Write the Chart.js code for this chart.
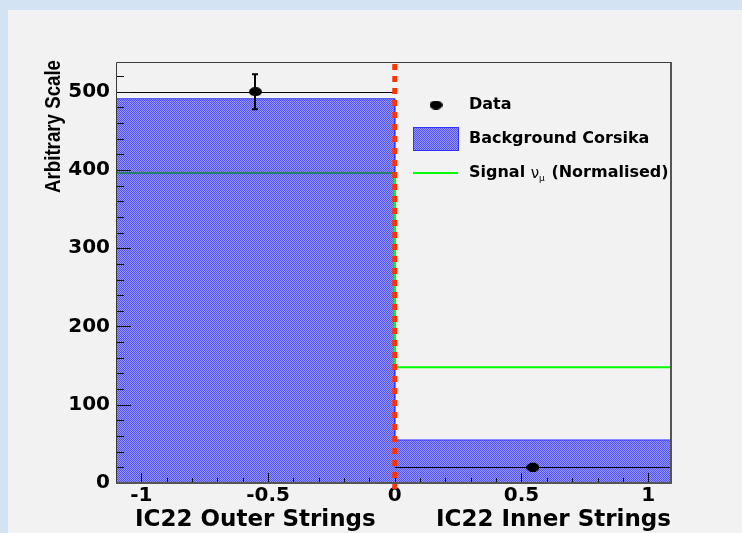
<!DOCTYPE html>
<html>
<head>
<meta charset="utf-8">
<script src="https://cdn.jsdelivr.net/npm/chart.js@4.4.0/dist/chart.umd.min.js"></script>
<style>
  html, body { margin: 0; padding: 0; }
  body { width: 742px; height: 533px; background: #d3e3f3; position: relative; overflow: hidden; }
  #wrap { position: absolute; left: 8px; top: 10px; width: 734px; height: 523px; background: #f2f2f2; }
  canvas { display: block; }
</style>
</head>
<body>
<div id="wrap"><canvas id="c" width="734" height="523"></canvas></div>
<script>
// ---- data ----
const binEdges = [-1.1, 0, 1.09];
const binLabels = ["IC22 Outer Strings", "IC22 Inner Strings"];
const backgroundCorsika = [491, 55];
const signalNuMu = [396, 148];
const dataCounts = [500, 20];
const dataErrors = [22.4, 4.5];
const yTickLabels = [0, 100, 200, 300, 400, 500];
const xTickLabels = [-1, -0.5, 0, 0.5, 1];
const yRange = [0, 538];
const yTitle = "Arbitrary Scale";
const legendLabels = ["Data", "Background Corsika", "Signal"];

// ---- helpers ----
function stepPoints(edges, vals) {
  const pts = [];
  for (let i = 0; i < vals.length; i++) {
    pts.push({ x: edges[i], y: vals[i] });
    pts.push({ x: edges[i + 1], y: vals[i] });
  }
  return pts;
}
const binCenters = binEdges.slice(0, -1).map((e, i) => (e + binEdges[i + 1]) / 2);
function binOf(xv) {
  for (let i = 0; i < binEdges.length - 1; i++) if (xv >= binEdges[i] && xv <= binEdges[i + 1]) return i;
  return -1;
}

function ellipseCanvas(w, h) {
  const c = document.createElement('canvas');
  c.width = w; c.height = h;
  const g = c.getContext('2d');
  g.fillStyle = '#000';
  g.beginPath();
  g.ellipse(w / 2, h / 2, w / 2, h / 2, 0, 0, Math.PI * 2);
  g.fill();
  return c;
}
const marker = ellipseCanvas(13, 9);

const canvas = document.getElementById('c');
const ctx0 = canvas.getContext('2d');
function hatchPattern() {
  const c = document.createElement('canvas');
  c.width = 2; c.height = 2;
  const g = c.getContext('2d');
  g.fillStyle = 'rgb(84,84,236)';
  g.fillRect(0, 0, 1, 1); g.fillRect(1, 1, 1, 1);
  g.fillStyle = 'rgb(150,150,252)';
  g.fillRect(1, 0, 1, 1); g.fillRect(0, 1, 1, 1);
  return ctx0.createPattern(c, 'repeat');
}
const blueHatch = hatchPattern();

const signalPts = [{ x: binEdges[0], y: 0 }]
  .concat(stepPoints(binEdges, signalNuMu))
  .concat([{ x: binEdges[binEdges.length - 1], y: 0 }, { x: binEdges[0], y: 0 }]);

const rootPlugin = {
  id: 'rootStyle',
  afterDatasetsDraw(chart) {
    const { ctx, chartArea: a, scales: { x, y } } = chart;
    ctx.save();
    // data x-extent lines and error bars
    ctx.strokeStyle = '#000';
    for (let i = 0; i < dataCounts.length; i++) {
      const yp = Math.round(y.getPixelForValue(dataCounts[i])) + 0.5;
      const x0 = x.getPixelForValue(binEdges[i]);
      const x1 = x.getPixelForValue(binEdges[i + 1]);
      ctx.lineWidth = 1;
      ctx.beginPath(); ctx.moveTo(x0, yp); ctx.lineTo(x1, yp); ctx.stroke();
      const xc = Math.round(x.getPixelForValue(binCenters[i]));
      const yt = y.getPixelForValue(dataCounts[i] + dataErrors[i]);
      const yb = y.getPixelForValue(dataCounts[i] - dataErrors[i]);
      ctx.lineWidth = 2;
      ctx.beginPath(); ctx.moveTo(xc, yt); ctx.lineTo(xc, yb); ctx.stroke();
      ctx.beginPath();
      ctx.moveTo(xc - 3, yt); ctx.lineTo(xc + 3, yt);
      ctx.moveTo(xc - 3, yb); ctx.lineTo(xc + 3, yb);
      ctx.stroke();
    }
    // inside tick marks
    ctx.strokeStyle = '#111';
    ctx.lineWidth = 1;
    ctx.beginPath();
    for (let v = 0; v <= yRange[1]; v += 20) {
      const yp = Math.round(y.getPixelForValue(v)) + 0.5;
      const len = (v % 100 === 0) ? 15 : 8;
      ctx.moveTo(a.left, yp); ctx.lineTo(a.left + len, yp);
    }
    for (let k = -10; k <= 10; k++) {
      const v = k / 10;
      const xp = Math.round(x.getPixelForValue(v)) + 0.5;
      const len = (k % 5 === 0) ? 10 : 5;
      ctx.moveTo(xp, a.bottom); ctx.lineTo(xp, a.bottom - len);
    }
    ctx.stroke();
    // frame
    ctx.strokeStyle = '#3a3a3a';
    ctx.lineWidth = 1;
    ctx.beginPath();
    ctx.moveTo(a.left + 0.5, a.bottom); ctx.lineTo(a.left + 0.5, a.top + 0.5);
    ctx.lineTo(a.right, a.top + 0.5);
    ctx.stroke();
    ctx.strokeStyle = '#555';
    ctx.lineWidth = 2;
    ctx.beginPath();
    ctx.moveTo(a.right, a.top); ctx.lineTo(a.right, a.bottom);
    ctx.lineTo(a.left, a.bottom);
    ctx.stroke();
    // red dashed separation line at x = 0
    const x0p = x.getPixelForValue(0);
    ctx.strokeStyle = '#ff3300';
    ctx.lineWidth = 5;
    ctx.setLineDash([6, 6]);
    ctx.beginPath(); ctx.moveTo(x0p, a.top + 2); ctx.lineTo(x0p, a.bottom + 6); ctx.stroke();
    ctx.setLineDash([]);
    // legend
    const lx = a.left + 297, tx = a.left + 353;
    const ly = [a.top + 43, a.top + 77, a.top + 111];
    ctx.drawImage(marker, a.left + 320 - 6.5, ly[0] - 4.5);
    ctx.fillStyle = blueHatch;
    ctx.fillRect(lx, ly[1] - 12, 46, 24);
    ctx.strokeStyle = '#3333ff'; ctx.lineWidth = 1;
    ctx.strokeRect(lx + 0.5, ly[1] - 11.5, 45, 23);
    ctx.strokeStyle = '#00ff00'; ctx.lineWidth = 2;
    ctx.beginPath(); ctx.moveTo(lx, ly[2]); ctx.lineTo(lx + 45, ly[2]); ctx.stroke();
    ctx.fillStyle = '#000';
    ctx.textBaseline = 'middle';
    ctx.textAlign = 'left';
    ctx.font = 'bold 16px "DejaVu Sans"';
    ctx.fillText(legendLabels[0], tx, ly[0]);
    ctx.fillText(legendLabels[1], tx, ly[1]);
    let cx = tx;
    ctx.fillText(legendLabels[2] + ' ', cx, ly[2]);
    cx += ctx.measureText(legendLabels[2] + ' ').width;
    ctx.font = '15px "DejaVu Sans"';
    ctx.fillText('\u03BD', cx, ly[2] + 1);
    cx += ctx.measureText('\u03BD').width;
    ctx.font = '9px "DejaVu Sans"';
    ctx.fillText('\u03BC', cx, ly[2] + 6);
    cx += ctx.measureText('\u03BC').width + 1;
    ctx.font = 'bold 16px "DejaVu Sans"';
    ctx.fillText(' (Normalised)', cx, ly[2]);
    // x titles under each bin
    ctx.textBaseline = 'alphabetic';
    ctx.font = 'bold 23px "DejaVu Sans"';
    ctx.textAlign = 'center';
    ctx.fillText(binLabels[0], x.getPixelForValue(binCenters[0]), a.bottom + 43);
    ctx.textAlign = 'right';
    ctx.fillText(binLabels[1], a.right, a.bottom + 43);
    // y title
    ctx.textAlign = 'center';
    ctx.translate(52, 116.5);
    ctx.rotate(-Math.PI / 2);
    ctx.scale(0.85, 1);
    ctx.font = 'bold 22px "Liberation Sans", Arial';
    ctx.fillText(yTitle, 0, 0);
    ctx.restore();
  }
};

new Chart(canvas, {
  type: 'line',
  data: {
    datasets: [
      {
        label: 'Data',
        type: 'scatter',
        data: binCenters.map((c, i) => ({ x: c, y: dataCounts[i] })),
        pointStyle: marker,
        pointRadius: 6,
        showLine: false,
        order: 1
      },
      {
        label: 'Signal',
        data: signalPts,
        borderColor: '#00ff00',
        borderWidth: 2,
        fill: false,
        pointRadius: 0,
        tension: 0,
        order: 2,
        segment: {
          borderColor: c => {
            const y0 = c.p0.parsed.y, y1 = c.p1.parsed.y;
            if (y0 === y1 && y0 > 0) {
              const b = binOf((c.p0.parsed.x + c.p1.parsed.x) / 2);
              if (b >= 0 && y0 < backgroundCorsika[b]) return '#23806e';
            }
            return undefined;
          }
        }
      },
      {
        label: 'Background Corsika',
        data: stepPoints(binEdges, backgroundCorsika),
        borderColor: '#3333ff',
        borderWidth: 1,
        backgroundColor: blueHatch,
        fill: 'origin',
        pointRadius: 0,
        tension: 0,
        order: 3
      }
    ]
  },
  options: {
    responsive: false,
    animation: false,
    devicePixelRatio: 1,
    layout: { padding: { left: 0, top: 52, right: 71, bottom: 0 } },
    plugins: { legend: { display: false }, tooltip: { enabled: false }, title: { display: false } },
    scales: {
      x: {
        type: 'linear',
        min: binEdges[0],
        max: binEdges[binEdges.length - 1],
        grid: { display: false, drawTicks: false },
        border: { display: false },
        afterFit(s) { s.height = 50; },
        afterBuildTicks(s) { s.ticks = xTickLabels.map(v => ({ value: v })); },
        ticks: {
          padding: 1,
          autoSkip: false,
          maxRotation: 0,
          color: '#000',
          font: { family: 'DejaVu Sans', weight: 'bold', size: 20 },
          callback: v => String(v)
        }
      },
      y: {
        type: 'linear',
        min: yRange[0],
        max: yRange[1],
        grid: { display: false, drawTicks: false },
        border: { display: false },
        afterFit(s) { s.width = 108; },
        afterBuildTicks(s) { s.ticks = yTickLabels.map(v => ({ value: v })); },
        ticks: {
          padding: 6,
          color: '#000',
          font: { family: 'DejaVu Sans', weight: 'bold', size: 20 },
          callback: v => String(v)
        }
      }
    }
  },
  plugins: [rootPlugin]
});
</script>
</body>
</html>
